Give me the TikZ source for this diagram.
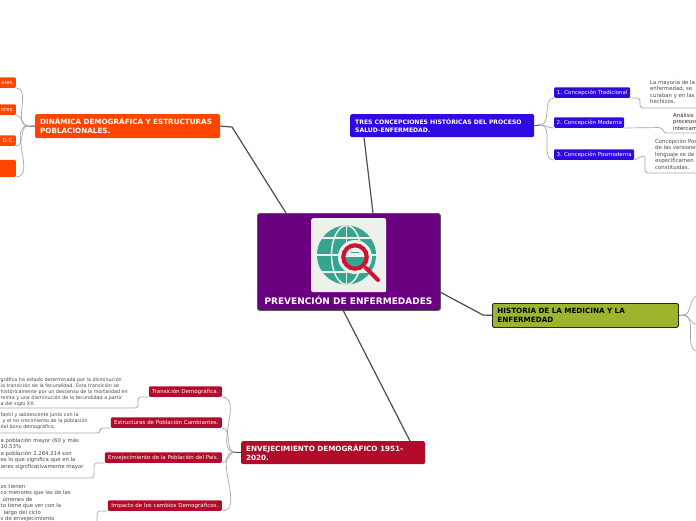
\documentclass[tikz,border=0pt]{standalone}
\usepackage{fontspec}
\setmainfont{DejaVu Sans}
\usepackage{tikz}
\usetikzlibrary{calc,arrows.meta}
\definecolor{morado}{HTML}{6A0080}
\definecolor{naranja}{HTML}{FF4500}
\definecolor{azul}{HTML}{3109E0}
\definecolor{verde}{HTML}{9DB52C}
\definecolor{rojo}{HTML}{B30B2A}
\definecolor{teal}{HTML}{35A58F}
\definecolor{fondo}{HTML}{EEF0EC}
\definecolor{lente}{HTML}{CF1333}
\tikzset{
    tema/.style = {anchor=north west,rounded corners=1.5pt,inner sep=0pt,font=\fontsize{7.2}{9}\selectfont\bfseries,align=left,text=white},
    sub/.style = {rounded corners=1.2pt,inner sep=0pt,minimum height=10.5pt,font=\fontsize{5.5}{6}\selectfont,text=white},
    nota/.style = {anchor=north west,inner sep=0pt,align=left,font=\fontsize{5.35}{6.5}\selectfont,text=black!72},
    notab/.style = {nota,font=\fontsize{4.85}{6}\selectfont},
    enlace/.style = {draw=black!70,line width=1.2pt},
    rama/.style = {draw=black!35,line width=0.7pt},
    guia/.style = {draw=black!35,line width=0.7pt,rounded corners=3pt}
}
\begin{document}
\begin{tikzpicture}[x=1pt,y=-1pt]
        \useasboundingbox (0,0) rectangle (696,520);
        \clip (0,0) rectangle (696,520);
        % centro
        \node[draw=black!65,fill=morado,line width=0.9pt,rounded corners=2.5pt,minimum width=183pt,minimum height=97pt,inner sep=0pt,anchor=north west](centro)at(257,213){};
        \node[fill=fondo,rounded corners=2pt,minimum width=75pt,minimum height=74pt,inner sep=0pt,anchor=north west](icono)at(311,218){};
        \node[text=white,font=\fontsize{9}{9}\selectfont\bfseries,inner sep=0pt](titulo)at(348.5,300){PREVENCIÓN DE ENFERMEDADES};
        % globo
        \fill[teal](346.5,255)circle(29.5);
        \begin{scope}
        \clip(346.5,255)circle(29.5);
        \foreach \i in {238,255,272}
        {
        \draw[fondo,line width=1.5pt](310,\i)to(385,\i);
        }
        \draw[fondo,line width=1.5pt](346.5,220)to(346.5,290);
        \draw[fondo,line width=1.5pt](346.5,255)ellipse(15 and 29.5);
        \end{scope}
        \fill[fondo](355,257)circle(17);
        \draw[lente,line width=4pt,line cap=round](366,268)to(378,280);
        \begin{scope}
        \clip(355,257)circle(10);
        \fill[teal](343,257)rectangle(367,268);
        \draw[teal,line width=1pt](351,252)to(359,252);
        \end{scope}
        \draw[lente,line width=4.2pt](355,257)circle(11.7);
        % temas
        \node[tema,fill=naranja,minimum width=185pt,minimum height=24pt,text width=175pt](dinamica)at(35,114){\hspace*{0pt}DINÁMICA DEMOGRÁFICA Y ESTRUCTURAS\\POBLACIONALES.};
        \node[tema,fill=azul,font=\fontsize{6.1}{8}\selectfont\bfseries,minimum width=184pt,minimum height=23pt,text width=174pt](tres)at(350,114){\hspace*{0pt}TRES CONCEPCIONES HISTÓRICAS DEL PROCESO\\SALUD-ENFERMEDAD.};
        \node[tema,fill=verde,draw=black!85,line width=0.8pt,text=black,minimum width=186pt,minimum height=24pt,text width=176pt](historia)at(492,303){\hspace*{0pt}HISTORIA DE LA MEDICINA Y LA\\ENFERMEDAD};
        \node[tema,fill=rojo,minimum width=184pt,minimum height=23pt,text width=174pt](envejecimiento)at(241,441){\hspace*{0pt}ENVEJECIMIENTO DEMOGRÁFICO 1951-\\2020.};
        % subtemas
        \node[sub,fill=naranja,anchor=south east,minimum width=60pt,text width=57pt,align=right](o1)at(16,88){ales.};
        \node[sub,fill=naranja,anchor=south east,minimum width=60pt,text width=57pt,align=right](o2)at(16,115){ores.};
        \node[sub,fill=naranja,anchor=south east,minimum width=60pt,text width=57pt,align=right](o3)at(16,146){D.C.};
        \node[sub,fill=naranja,anchor=south east,minimum width=60pt,minimum height=17pt](o4)at(16,177){};
        \node[sub,fill=azul,anchor=south west,minimum width=76pt](a1)at(554,98){1. Concepción Tradicional};
        \node[sub,fill=azul,anchor=south west,minimum width=70pt](a2)at(554,128){2. Concepción Moderna};
        \node[sub,fill=azul,anchor=south west,minimum width=80pt](a3)at(554,160){3. Concepción Posmoderna};
        \node[sub,fill=rojo,anchor=south east,minimum width=73pt](r1)at(222,397){Transición Demográfica.};
        \node[sub,fill=rojo,anchor=south east,minimum width=111pt](r2)at(222,428){Estructuras de Población Cambiantes.};
        \node[sub,fill=rojo,anchor=south east,minimum width=117pt](r3)at(222,463){Envejecimiento de la Población del País.};
        \node[sub,fill=rojo,anchor=south east,minimum width=114pt](r4)at(222,511){Impacto de los cambios Demográficos.};
        % notas
        \node[nota](n1)at(650,80){La mayoría de la\\enfermedad, se\\curaban y en las\\hechizos.};
        \node[nota,text=black!60!red!45!black!90](n2)at(673,113){Análisis\\procesos\\intercam};
        \node[nota](n3)at(655,139){Concepción Pos\\de las versione\\lenguaje se de\\específicamen\\constituidas.};
        \node[notab](n4)at(0.5,377){gráfica ha estado determinada por la disminución\\la transición de la fecundidad. Esta transición se\\históricamente por un descenso de la mortalidad en\\reinta y una disminución de la fecundidad a partir\\a del siglo XX.};
        \node[notab](n5)at(0.5,412.5){fantil y adolescente junto con la\\\hspace*{2pt}y el no crecimiento de la población\\del bono demográfico.};
        \node[nota](n6)at(0.5,438){a población mayor (60 y más\\10.53\%\\a población 2.264.214 son\\es lo que significa que en la\\ieres significativamente mayor};
        \node[nota](n7)at(0.5,484){os tienen\\co menores que las de las\\\hspace*{2pt}úmenes de\\to tiene que ver con la\\\hspace*{3pt}largo del ciclo\\s de envejecimiento};
        % enlaces
        \coordinate(dd)at(232,127);
        \coordinate(hh)at(483,315);
        \draw[enlace](dinamica.east)to(dd)to($(centro.north west)+(29,0)$);
        \draw[enlace](tres.south west -| 364,0)to(373,213);
        \draw[enlace](historia.west)to(hh)to(440,292);
        \draw[enlace](343,310)to(410,441);
        % ramas
        \coordinate(jo)at(28,126);
        \coordinate(ja)at(540,125);
        \coordinate(jv)at(683,315);
        \coordinate(jr)at(235,452);
        \draw[enlace,line width=0.9pt](dinamica.west)to(jo);
        \draw[enlace,line width=0.9pt](tres.east)to(ja);
        \draw[enlace,draw=black!45,line width=0.9pt](historia.east)to(jv);
        \draw[enlace,line width=0.9pt](envejecimiento.west|-jr)to(jr);
        \foreach \n in {o1,o2,o3,o4}
        {
        \draw[rama](jo)to[out=180,in=0](\n.south east);
        }
        \foreach \n in {a1,a2,a3}
        {
        \draw[rama](ja)to[out=0,in=180](\n.south west);
        }
        \foreach \n in {r1,r2,r3,r4}
        {
        \draw[rama](jr)to[out=180,in=0](\n.south east);
        }
        \coordinate(v1)at(698,296);
        \coordinate(v2)at(698,325);
        \coordinate(v3)at(698,351);
        \foreach \n in {v1,v2,v3}
        {
        \draw[rama](jv)to[out=0,in=180](\n);
        }
        % guias
        \coordinate(g1)at(698,108);
        \coordinate(g2)at(698,133);
        \coordinate(g3)at(698,173);
        \coordinate(g4)at(-2,408);
        \coordinate(g5)at(-2,433);
        \coordinate(g6)at(-2,478);
        \coordinate(g7)at(97,523);
        \draw[guia](a1.south east)--(640,98)--(640,108)--(g1);
        \draw[guia](a2.south east)--(662,127.5)--(664,133)--(g2);
        \draw[guia](a3.south east)--(645,155)--(645,173)--(g3);
        \draw[guia](r1.south west)--(138,397)--(138,408)--(g4);
        \draw[guia](r2.south west)--(100,428)--(100,433)--(g5);
        \draw[guia](r3.south west)--(94,463)--(94,478)--(g6);
        \draw[guia](r4.south west)--(97,511)--(g7);
    \end{tikzpicture}
\end{document}
